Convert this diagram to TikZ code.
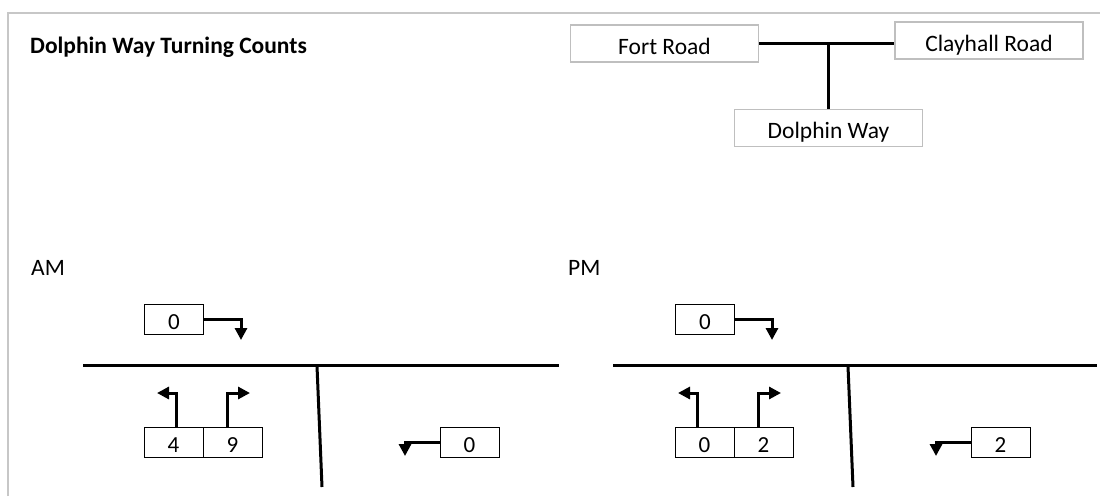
\documentclass[tikz,border=0pt]{standalone}
\usepackage{fontspec}
\setmainfont{Carlito}
\usetikzlibrary{arrows.meta,positioning}

\begin{document}
\begin{tikzpicture}[x=1pt,y=-1pt]
        \tikzstyle{road}=[draw, line width=3pt]
        \tikzstyle{turnarrow}=[draw, line width=3pt, -{Triangle[width=12pt,length=12pt]}]
        \tikzstyle{roadname}=[draw=black!25, line width=1.5pt, minimum width=188pt, minimum height=37pt, inner sep=0pt, text height=21pt, text depth=0pt, font=\fontsize{23.5}{28}\selectfont]
        \tikzstyle{tally}=[draw, line width=0.8pt, minimum width=59pt, minimum height=30pt, inner sep=0pt, text height=20.5pt, text depth=0pt, font=\fontsize{23}{27}\selectfont]
        \tikzstyle{heading}=[anchor=west, inner sep=0pt, font=\fontsize{23.5}{28}\selectfont]
        \useasboundingbox (0,0) rectangle (1100,496);
        \draw[black!22, line width=2pt] (8,496) -- (8,13) -- (1100,13);

        \node [heading, font=\fontsize{23.5}{28}\selectfont\bfseries] (title) at (30,47) {Dolphin Way Turning Counts};

        % key of the junction
        \node [roadname] (fort) at (664.5,43.5) {Fort Road};
        \node [roadname] (clay) at (989,40.5) {Clayhall Road};
        \node [roadname] (dolphin) at (828.5,128) {Dolphin Way};
        \coordinate (jn) at (dolphin.north |- fort.east);
        \path[road] (fort.east) -- (clay.west |- fort.east);
        \path[road] (jn) -- (dolphin.north);

        % AM
        \node [heading] (am) at (31,268) {AM};
        \coordinate (amRl) at (83,365);
        \coordinate (amRr) at (559,365);
        \coordinate (amVt) at (317,366);
        \coordinate (amVb) at (322,487);
        \path[road] (amRl) -- (amRr);
        \path[road] (amVt) -- (amVb);

        \node [tally] (amT) at (174,319) {0};
        \node [tally] (amL) at (173.5,442) {4};
        \node [tally, right=-0.8pt of amL] (amR) {9};
        \node [tally] (amE) at (469.5,442) {0};
        \coordinate (amTa) at (241,340);
        \coordinate (amLa) at (157,393);
        \coordinate (amRa) at (250,393);
        \coordinate (amEa) at (405,456);
        \path[turnarrow] (amT.east) -| (amTa);
        \path[turnarrow] ([xshift=3pt]amL.north) |- (amLa);
        \path[turnarrow] ([xshift=-5pt]amR.north) |- (amRa);
        \path[turnarrow] (amE.west) -| (amEa);

        % PM
        \node [heading] (pm) at (568,268) {PM};
        \coordinate (pmRl) at (613,365);
        \coordinate (pmRr) at (1097,365);
        \coordinate (pmVt) at (848,366);
        \coordinate (pmVb) at (853,487);
        \path[road] (pmRl) -- (pmRr);
        \path[road] (pmVt) -- (pmVb);

        \node [tally] (pmT) at (705,319) {0};
        \node [tally] (pmL) at (704.5,442) {0};
        \node [tally, right=-0.8pt of pmL] (pmR) {2};
        \node [tally] (pmE) at (1000.5,442) {2};
        \coordinate (pmTa) at (772,340);
        \coordinate (pmLa) at (678,393);
        \coordinate (pmRa) at (781,393);
        \coordinate (pmEa) at (936,456);
        \path[turnarrow] ([xshift=-7pt]pmL.north) |- (pmLa);
        \path[turnarrow] ([xshift=-5pt]pmR.north) |- (pmRa);
        \path[turnarrow] (pmT.east) -| (pmTa);
        \path[turnarrow] (pmE.west) -| (pmEa);
\end{tikzpicture}
\end{document}
